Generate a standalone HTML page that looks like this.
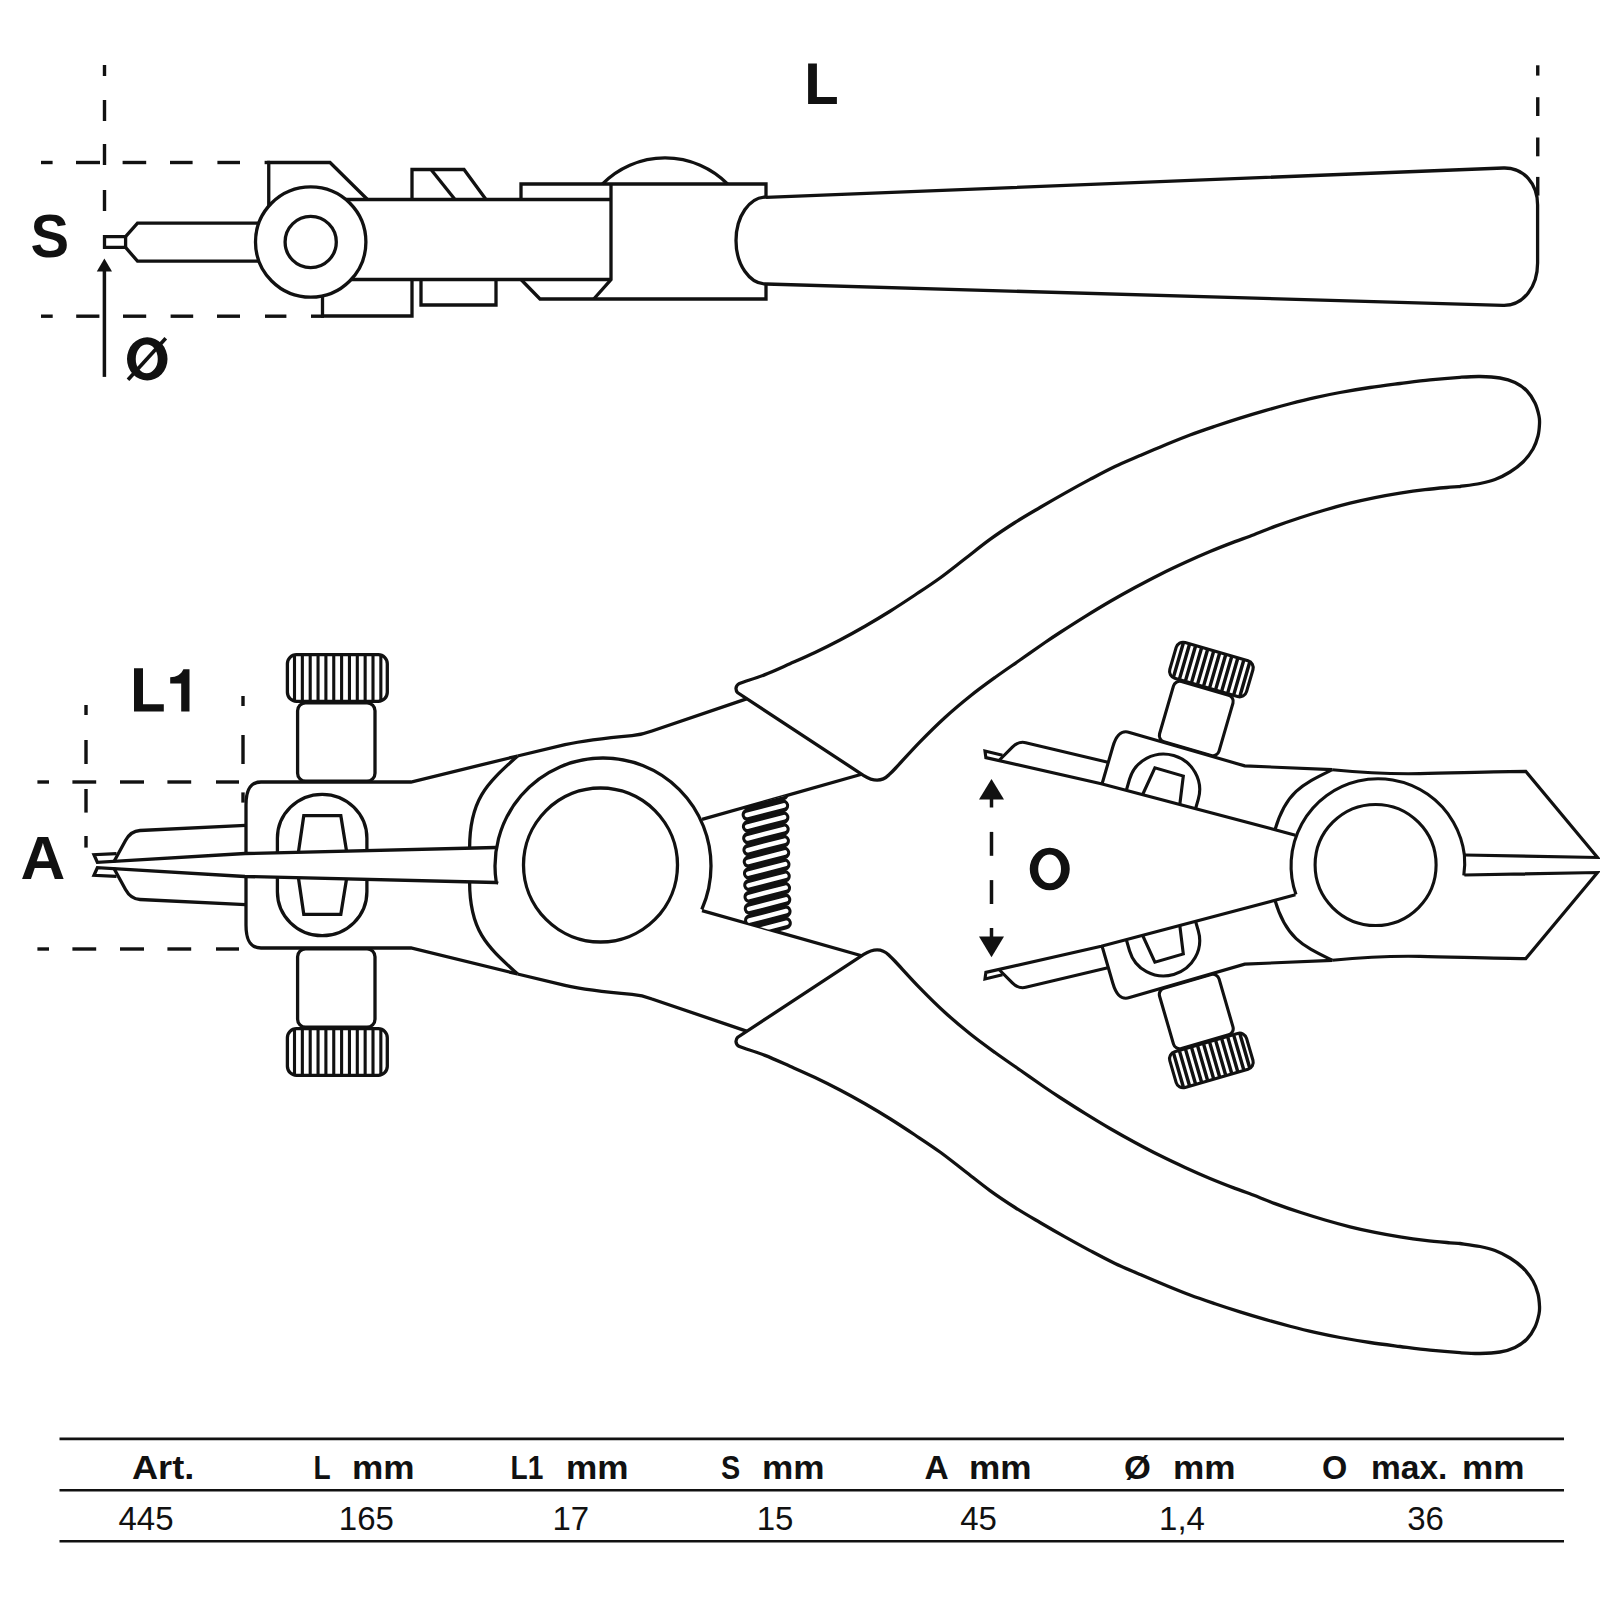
<!DOCTYPE html>
<html><head><meta charset="utf-8"><title>Circlip pliers</title>
<style>
html,body{margin:0;padding:0;background:#fff;}
body{width:1600px;height:1600px;overflow:hidden;font-family:"Liberation Sans",sans-serif;}
svg{display:block;}
text{font-family:"Liberation Sans",sans-serif;fill:#111;}
</style></head><body>
<svg width="1600" height="1600" viewBox="0 0 1600 1600">
<rect width="1600" height="1600" fill="#fff"/>
<defs>
<clipPath id="clipUp"><path d="M80,600 L560,600 L560,846 L496,847.5 L245,853.5 L96.25,862.5 L80,862.5 Z"/></clipPath>
<g id="jaw">
<rect x="287.4" y="654.7" width="99.9" height="46.6" rx="9" ry="9" fill="#fff"/>
<rect x="297.6" y="702.8" width="77.4" height="78.4" rx="8" ry="8" fill="#fff"/>
<path fill="#fff" stroke="none" d="M246,853.5 L246,805 C246,789 250.5,782 261,782 L411,782 L517.5,756 A137,137 0 0 0 469.8,848.2 Z"/>
<path d="M246,853.5 L246,805 C246,789 250.5,782 261,782 L411,782 L517.5,756"/>
<path d="M517.5,756 C488,783 469.6,798 469.6,848.2"/>
<path d="M245.5,825.4 L140,830.5 C132,831 128.5,835 125.5,840.5 L113.75,862"/>
<path d="M116.5,853.7 L94,854.7 L97.4,862.4 L245,853.5 L496,847.5"/>
<g clip-path="url(#clipUp)">
<rect x="277.4" y="794.3" width="89.5" height="141.4" rx="44.7" ry="44"/>
<path d="M295.8,870 L303.8,815.6 L340.8,815.6 L349.6,870"/>
</g>
</g>
</defs>
<g id="main" fill="none" stroke="#111" stroke-width="3.3" stroke-linejoin="miter">
<g id="armU">
<path d="M517.5,756 L565,744.7 C585,740.2 610,737.6 632,735.6 C640,734.9 645,733.6 652,731 L748,698.4"/>
<path d="M702,819.4 L866,773"/>
</g>
<use href="#armU" transform="translate(0,1730) scale(1,-1)"/>
<clipPath id="clipSp"><path d="M700,819.9 L860,774.6 L860,955.4 L700,910.1 Z"/></clipPath>
<g clip-path="url(#clipSp)" stroke-linecap="round">
<line x1="747.77" y1="802.93" x2="782.43" y2="793.98" stroke-width="12.8"/>
<line x1="748.04" y1="814.67" x2="782.7" y2="805.72" stroke-width="12.8"/>
<line x1="748.31" y1="826.41" x2="782.97" y2="817.46" stroke-width="12.8"/>
<line x1="748.58" y1="838.15" x2="783.24" y2="829.2" stroke-width="12.8"/>
<line x1="748.85" y1="849.89" x2="783.51" y2="840.94" stroke-width="12.8"/>
<line x1="749.12" y1="861.63" x2="783.78" y2="852.68" stroke-width="12.8"/>
<line x1="749.39" y1="873.37" x2="784.05" y2="864.42" stroke-width="12.8"/>
<line x1="749.66" y1="885.11" x2="784.32" y2="876.16" stroke-width="12.8"/>
<line x1="749.93" y1="896.85" x2="784.59" y2="887.89" stroke-width="12.8"/>
<line x1="750.2" y1="908.59" x2="784.86" y2="899.63" stroke-width="12.8"/>
<line x1="750.47" y1="920.33" x2="785.13" y2="911.38" stroke-width="12.8"/>
<line x1="750.74" y1="932.07" x2="785.4" y2="923.12" stroke-width="12.8"/>
<line x1="746.7" y1="803.2" x2="783.5" y2="793.7" stroke="#fff" stroke-width="4.6"/>
<line x1="746.97" y1="814.94" x2="783.77" y2="805.44" stroke="#fff" stroke-width="4.6"/>
<line x1="747.24" y1="826.68" x2="784.04" y2="817.18" stroke="#fff" stroke-width="4.6"/>
<line x1="747.51" y1="838.42" x2="784.31" y2="828.92" stroke="#fff" stroke-width="4.6"/>
<line x1="747.78" y1="850.16" x2="784.58" y2="840.66" stroke="#fff" stroke-width="4.6"/>
<line x1="748.05" y1="861.9" x2="784.85" y2="852.4" stroke="#fff" stroke-width="4.6"/>
<line x1="748.32" y1="873.64" x2="785.12" y2="864.14" stroke="#fff" stroke-width="4.6"/>
<line x1="748.59" y1="885.38" x2="785.39" y2="875.88" stroke="#fff" stroke-width="4.6"/>
<line x1="748.86" y1="897.12" x2="785.66" y2="887.62" stroke="#fff" stroke-width="4.6"/>
<line x1="749.13" y1="908.86" x2="785.93" y2="899.36" stroke="#fff" stroke-width="4.6"/>
<line x1="749.4" y1="920.6" x2="786.2" y2="911.1" stroke="#fff" stroke-width="4.6"/>
<line x1="749.67" y1="932.34" x2="786.47" y2="922.84" stroke="#fff" stroke-width="4.6"/>
</g>
<path id="handle" fill="#fff" d="M737.8,692.8 C735.5,690.5 734.8,686 739.5,683.4 L745,681.5 C748.33,680.35 757.5,677.56 765,674.6 C772.5,671.64 781.67,667.43 790,663.75 C798.33,660.07 806.67,656.46 815,652.5 C823.33,648.54 831.67,644.38 840,640 C848.33,635.62 856.67,631.04 865,626.25 C873.33,621.46 881.67,616.46 890,611.25 C898.33,606.04 906.67,600.54 915,595 C923.33,589.46 931.67,584.04 940,578 C948.33,571.96 956.67,565.18 965,558.75 C973.33,552.32 981.67,545.44 990,539.4 C998.33,533.36 1006.67,527.82 1015,522.5 C1023.33,517.18 1031.67,512.4 1040,507.5 C1048.33,502.6 1056.67,497.78 1065,493.1 C1073.33,488.42 1081.67,483.83 1090,479.4 C1098.33,474.97 1106.67,470.47 1115,466.5 C1123.33,462.53 1131.67,459.18 1140,455.6 C1148.33,452.02 1156.67,448.43 1165,445 C1173.33,441.57 1181.67,438.12 1190,435 C1198.33,431.88 1206.67,429.07 1215,426.25 C1223.33,423.43 1231.67,420.71 1240,418.1 C1248.33,415.49 1256.67,412.99 1265,410.6 C1273.33,408.21 1281.67,405.92 1290,403.75 C1298.33,401.58 1306.67,399.48 1315,397.6 C1323.33,395.73 1330.83,394.18 1340,392.5 C1349.17,390.82 1360,389 1370,387.5 C1380,386 1390,384.78 1400,383.5 C1410,382.22 1420,380.83 1430,379.8 C1440,378.77 1451.67,377.85 1460,377.3 C1468.33,376.75 1473.33,376.38 1480,376.5 C1486.67,376.62 1494.17,377 1500,378 C1505.83,379 1510.5,380.33 1515,382.5 C1519.5,384.67 1523.67,387.58 1527,391 C1530.33,394.42 1533,398.83 1535,403 C1537,407.17 1538.25,412.5 1539,416 C1539.75,419.5 1539.67,420.67 1539.5,424 C1539.33,427.33 1539.08,431.83 1538,436 C1536.92,440.17 1535.5,444.67 1533,449 C1530.5,453.33 1526.83,458.17 1523,462 C1519.17,465.83 1514.67,469.08 1510,472 C1505.33,474.92 1500,477.58 1495,479.5 C1490,481.42 1485.83,482.33 1480,483.5 C1474.17,484.67 1463.33,486 1460,486.5 C1458.33,486.62 1455.83,486.68 1450,487.2 C1444.17,487.72 1433.33,488.62 1425,489.6 C1416.67,490.58 1408.33,491.77 1400,493.1 C1391.67,494.43 1383.33,495.92 1375,497.6 C1366.67,499.28 1358.33,501.13 1350,503.2 C1341.67,505.27 1333.33,507.58 1325,510 C1316.67,512.42 1308.33,514.97 1300,517.7 C1291.67,520.43 1283.33,523.32 1275,526.4 C1266.67,529.48 1256.67,533.67 1250,536.2 C1243.33,538.73 1241.67,539.05 1235,541.6 C1228.33,544.15 1218.33,548.02 1210,551.5 C1201.67,554.98 1193.33,558.68 1185,562.5 C1176.67,566.32 1168.33,570.23 1160,574.4 C1151.67,578.57 1143.33,582.98 1135,587.5 C1126.67,592.02 1118.33,596.65 1110,601.5 C1101.67,606.35 1093.33,611.43 1085,616.6 C1076.67,621.77 1066.67,628.18 1060,632.5 C1053.33,636.82 1051.67,637.92 1045,642.5 C1038.33,647.08 1028.33,654.17 1020,660 C1011.67,665.83 1003.33,671.46 995,677.5 C986.67,683.54 978.33,689.58 970,696.25 C961.67,702.92 953.33,709.89 945,717.5 C936.67,725.11 928.33,733.36 920,741.9 C911.67,750.44 900.21,763.23 895,768.75 C889.79,774.27 889.79,773.96 888.75,775 Q878.75,785 863.75,775.6 Z"/>
<use href="#handle" transform="translate(0,1730) scale(1,-1)"/>
<use href="#jaw"/>
<path d="M294.5,656 L294.5,700 M302.35,656 L302.35,700 M310.2,656 L310.2,700 M318.05,656 L318.05,700 M325.9,656 L325.9,700 M333.75,656 L333.75,700 M341.6,656 L341.6,700 M349.45,656 L349.45,700 M357.3,656 L357.3,700 M365.15,656 L365.15,700 M373,656 L373,700 M380.85,656 L380.85,700" stroke-width="3.1"/>
<g transform="translate(0,1730) scale(1,-1)">
<use href="#jaw"/>
<path d="M294.5,656 L294.5,700 M302.35,656 L302.35,700 M310.2,656 L310.2,700 M318.05,656 L318.05,700 M325.9,656 L325.9,700 M333.75,656 L333.75,700 M341.6,656 L341.6,700 M349.45,656 L349.45,700 M357.3,656 L357.3,700 M365.15,656 L365.15,700 M373,656 L373,700 M380.85,656 L380.85,700" stroke-width="3.1"/>
</g>
<circle cx="600.5" cy="865" r="77"/>
<path d="M498.2,883.2 L496.3,882.6 A108,108 0 0 1 603,758 A108,108 0 0 1 711,866 A108,108 0 0 1 701.8,909.5"/>
</g>
<g id="opened" fill="none" stroke="#111" stroke-width="3.3" stroke-linejoin="miter">
<g id="ojaw" transform="translate(1101.25,783.75) rotate(16.2) scale(0.8) translate(-245,-853.5)" stroke-width="3.9">
<use href="#jaw"/>
<path d="M294.5,656 L294.5,700 M302.35,656 L302.35,700 M310.2,656 L310.2,700 M318.05,656 L318.05,700 M325.9,656 L325.9,700 M333.75,656 L333.75,700 M341.6,656 L341.6,700 M349.45,656 L349.45,700 M357.3,656 L357.3,700 M365.15,656 L365.15,700 M373,656 L373,700 M380.85,656 L380.85,700" stroke-width="4.3"/>
</g>
<use href="#ojaw" transform="translate(0,1730) scale(1,-1)"/>
<g stroke-width="3.1">
<g id="ostub">
<path d="M1332.36,769.67 C1370,773.4 1400,774 1420,773.6 C1460,772.8 1500,771.5 1525.8,771.4 L1597.5,857.5 L1464.4,855"/>
</g>
<use href="#ostub" transform="translate(0,1730) scale(1,-1)"/>
<circle cx="1375.6" cy="865" r="60.5"/>
<path d="M1296,894.6 A87,87 0 1 1 1464.4,855 A87,87 0 0 1 1463.8,875.5"/>
</g>
</g>
<g id="topview" fill="none" stroke="#111" stroke-width="3.3" stroke-linejoin="miter">
<path fill="#fff" d="M766,197.3 L1503.4,168 C1524,167.3 1537.6,184 1537.6,205 L1537.6,263 C1537.6,286 1524,306 1503,305.3 L766,284"/>
<path fill="#fff" stroke="none" d="M521,199.5 L521,184 L766,184 L766,299 L540,299 L521,279.5"/>
<path d="M521,199.5 L521,184 L766,184 L766,197.5 M766,284 L766,299 L540,299 L521,279.5"/>
<path d="M611,184 L611,279.5 L593.75,299"/>
<path d="M602.5,184 A88,88 0 0 1 727.5,184"/>
<path fill="#fff" d="M766,197 A30,43.5 0 0 0 766,284"/>
<path d="M268.75,215 L268.75,162.5 L330,162.5 L367.5,199.5"/>
<path d="M322.5,290 L322.5,316 L412,316 L412,279.5"/>
<path d="M412,199.5 L412,169.5 L464,169.5 L486,199.5"/>
<path d="M431,169.5 L455,199.5"/>
<path d="M421,279.5 L421,305 L496,305 L496,279.5"/>
<path d="M260,223.1 L137.5,223.1 L125.6,236.7 L104.5,236.7 L104.5,247.4 L125.6,247.4 L137.5,261.2 L260,261.2"/>
<path d="M125.6,236.7 L125.6,247.4"/>
<path d="M340,199.5 L611,199.5 M340,279.5 L611,279.5"/>
<circle cx="310.7" cy="242" r="55.2" fill="#fff"/>
<circle cx="310.7" cy="242" r="25.6" fill="#fff"/>
</g>
<g id="dims" fill="none" stroke="#111" stroke-linecap="butt">
<line x1="104.5" y1="65" x2="104.5" y2="76" stroke-width="3.4"/>
<line x1="104.5" y1="100" x2="104.5" y2="121" stroke-width="3.4"/>
<line x1="104.5" y1="144" x2="104.5" y2="165" stroke-width="3.4"/>
<line x1="104.5" y1="190" x2="104.5" y2="211" stroke-width="3.4"/>
<line x1="1537.75" y1="65.3" x2="1537.75" y2="75.6" stroke-width="3.4"/>
<line x1="1537.75" y1="97.2" x2="1537.75" y2="116" stroke-width="3.4"/>
<line x1="1537.75" y1="137.5" x2="1537.75" y2="156.3" stroke-width="3.4"/>
<line x1="1537.75" y1="176.9" x2="1537.75" y2="195.6" stroke-width="3.4"/>
<line x1="41" y1="162.5" x2="52.6" y2="162.5" stroke-width="3.4"/>
<line x1="76" y1="162.5" x2="100" y2="162.5" stroke-width="3.4"/>
<line x1="122.6" y1="162.5" x2="146.2" y2="162.5" stroke-width="3.4"/>
<line x1="170" y1="162.5" x2="192.6" y2="162.5" stroke-width="3.4"/>
<line x1="217.4" y1="162.5" x2="240" y2="162.5" stroke-width="3.4"/>
<line x1="264.6" y1="162.5" x2="270" y2="162.5" stroke-width="3.4"/>
<line x1="41" y1="316.2" x2="52.7" y2="316.2" stroke-width="3.4"/>
<line x1="76.2" y1="316.2" x2="99.4" y2="316.2" stroke-width="3.4"/>
<line x1="123" y1="316.2" x2="146.2" y2="316.2" stroke-width="3.4"/>
<line x1="170.6" y1="316.2" x2="193.2" y2="316.2" stroke-width="3.4"/>
<line x1="217" y1="316.2" x2="240" y2="316.2" stroke-width="3.4"/>
<line x1="265" y1="316.2" x2="286.4" y2="316.2" stroke-width="3.4"/>
<line x1="311" y1="316.2" x2="324" y2="316.2" stroke-width="3.4"/>
<line x1="104.4" y1="376.9" x2="104.4" y2="268" stroke-width="3.5"/>
<path d="M104.4,258.4 L112,271.6 L96.8,271.6 Z" fill="#111" stroke="none"/>
<line x1="86" y1="705" x2="86" y2="715" stroke-width="3.4"/>
<line x1="86" y1="740" x2="86" y2="764" stroke-width="3.4"/>
<line x1="86" y1="789" x2="86" y2="812.6" stroke-width="3.4"/>
<line x1="86" y1="836" x2="86" y2="847.6" stroke-width="3.4"/>
<line x1="243" y1="696" x2="243" y2="706" stroke-width="3.4"/>
<line x1="243" y1="735" x2="243" y2="764" stroke-width="3.4"/>
<line x1="243" y1="792.4" x2="243" y2="802.6" stroke-width="3.4"/>
<line x1="37.4" y1="782" x2="49" y2="782" stroke-width="3.4"/>
<line x1="72.4" y1="782" x2="96.2" y2="782" stroke-width="3.4"/>
<line x1="120" y1="782" x2="144" y2="782" stroke-width="3.4"/>
<line x1="167.4" y1="782" x2="191.2" y2="782" stroke-width="3.4"/>
<line x1="216" y1="782" x2="239" y2="782" stroke-width="3.4"/>
<line x1="37.4" y1="949" x2="49" y2="949" stroke-width="3.4"/>
<line x1="72.4" y1="949" x2="96.2" y2="949" stroke-width="3.4"/>
<line x1="120" y1="949" x2="144" y2="949" stroke-width="3.4"/>
<line x1="167.4" y1="949" x2="191.2" y2="949" stroke-width="3.4"/>
<line x1="216" y1="949" x2="239" y2="949" stroke-width="3.4"/>
</g>
<g id="labels" font-weight="bold" fill="#111">
<path d="M808.1,63.4 H816.9 V96.9 H836.9 V104.1 H808.1 Z"/>
<text transform="translate(30.5,257.2) scale(0.96,1)" font-size="60.3px">S</text>
<path d="M134,668.3 H143 V704.3 H163.8 V711.5 H134 Z"/>
<path d="M181.2,711.5 V683.5 H170.2 V677.2 C176.5,677 181.2,674.5 183.4,669.2 H189.5 V711.5 Z"/>
<text x="20.4" y="878.7" font-size="62px">A</text>
</g>
<path fill="#111" fill-rule="evenodd" d="M1029.75,869 a20,21.3 0 1 0 40,0 a20,21.3 0 1 0 -40,0 Z M1038.2,868.9 a11.4,14.4 0 1 0 22.8,0 a11.4,14.4 0 1 0 -22.8,0 Z"/>
<path fill="#111" fill-rule="evenodd" d="M127,358.9 a20.25,21.6 0 1 0 40.5,0 a20.25,21.6 0 1 0 -40.5,0 Z M135.75,358.9 a11,14.4 0 1 0 22,0 a11,14.4 0 1 0 -22,0 Z"/>
<line x1="128" y1="379.75" x2="165.75" y2="338.25" stroke="#111" stroke-width="3.6"/>
<g id="oarrow" stroke="#111" fill="#111">
<line x1="991.5" y1="798" x2="991.5" y2="807.5" stroke-width="3.5"/>
<line x1="991.5" y1="831.9" x2="991.5" y2="855.8" stroke-width="3.5"/>
<line x1="991.5" y1="880.1" x2="991.5" y2="904" stroke-width="3.5"/>
<line x1="991.5" y1="928" x2="991.5" y2="938" stroke-width="3.5"/>
<path d="M991.5,779 L1004,799.6 L979,799.6 Z" stroke="none"/>
<path d="M991.5,957.2 L1004,936.6 L979,936.6 Z" stroke="none"/>
</g>
<g id="table">
<line x1="59.5" y1="1438.9" x2="1564" y2="1438.9" stroke="#111" stroke-width="2.6"/>
<line x1="59.5" y1="1490.2" x2="1564" y2="1490.2" stroke="#111" stroke-width="2.6"/>
<line x1="59.5" y1="1541.2" x2="1564" y2="1541.2" stroke="#111" stroke-width="2.6"/>
<g font-weight="bold" font-size="33.5px">
<text transform="translate(132,1479) scale(1.08,1)">Art.</text>
<text transform="translate(313.6,1479) scale(0.84,1)">L</text>
<text transform="translate(352,1479) scale(1.05,1)">mm</text>
<text transform="translate(510.5,1479) scale(0.84,1)">L1</text>
<text transform="translate(566,1479) scale(1.05,1)">mm</text>
<text transform="translate(721,1479) scale(0.86,1)">S</text>
<text transform="translate(762,1479) scale(1.05,1)">mm</text>
<text transform="translate(924.5,1479) scale(1,1)">A</text>
<text transform="translate(969,1479) scale(1.05,1)">mm</text>
<text transform="translate(1124,1479) scale(1.03,1)">Ø</text>
<text transform="translate(1173,1479) scale(1.05,1)">mm</text>
<text transform="translate(1322,1479) scale(0.97,1)">O</text>
<text transform="translate(1371,1479) scale(1,1)">max.</text>
<text transform="translate(1462,1479) scale(1.05,1)">mm</text>
</g>
<g font-size="33px" text-anchor="middle">
<text x="146" y="1529.5">445</text>
<text x="366.4" y="1529.5">165</text>
<text x="570.8" y="1529.5">17</text>
<text x="775" y="1529.5">15</text>
<text x="978.5" y="1529.5">45</text>
<text x="1182" y="1529.5">1,4</text>
<text x="1425.6" y="1529.5">36</text>
</g>
</g>
</svg>
</body></html>
